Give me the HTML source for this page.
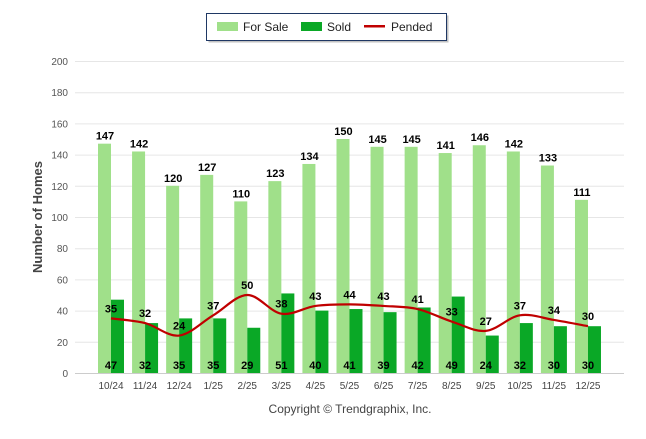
<!DOCTYPE html>
<html><head><meta charset="utf-8"><style>
body{margin:0;background:#fff;font-family:"Liberation Sans",sans-serif}
svg text{font-family:"Liberation Sans",sans-serif}
</style></head><body>
<svg id="c" width="646" height="434" xmlns="http://www.w3.org/2000/svg">
<g>
<rect x="208.5" y="15.5" width="240" height="27" fill="#999" opacity="0.6"/>
<rect x="206.5" y="13.5" width="240" height="27" fill="#fff" stroke="#1f3864" stroke-width="1"/>
<rect x="217" y="22" width="21" height="9" fill="#a0e08a"/><text x="243" y="31" font-size="12" fill="#222">For Sale</text>
<rect x="301" y="22" width="21" height="9" fill="#0aa826"/><text x="327" y="31" font-size="12" fill="#222">Sold</text>
<rect x="364" y="25" width="21" height="2.5" fill="#c00000"/><text x="391" y="31" font-size="12" fill="#222">Pended</text>
</g>
<g id="grid"></g><g id="bars"></g><g id="line"></g><g id="labels"></g>
<text x="42" y="217" font-size="13" font-weight="bold" fill="#444" text-anchor="middle" transform="rotate(-90 42 217)">Number of Homes</text>
<text x="350" y="413" font-size="12" fill="#444" text-anchor="middle">Copyright © Trendgraphix, Inc.</text>
</svg>
<script>
const categories=["10/24","11/24","12/24","1/25","2/25","3/25","4/25","5/25","6/25","7/25","8/25","9/25","10/25","11/25","12/25"];
const forSale=[147,142,120,127,110,123,134,150,145,145,141,146,142,133,111];
const sold=[47,32,35,35,29,51,40,41,39,42,49,24,32,30,30];
const pended=[35,32,24,37,50,38,43,44,43,41,33,27,37,34,30];
const yTicks=[0,20,40,60,80,100,120,140,160,180,200];
const NS="http://www.w3.org/2000/svg";
const y=v=>373-v*1.56;
const x=i=>111+i*34.07;
function mk(t,a,p){const e=document.createElementNS(NS,t);for(const k in a)e.setAttribute(k,a[k]);p.appendChild(e);return e;}
const G=document.getElementById('grid'),B=document.getElementById('bars'),L=document.getElementById('line'),T=document.getElementById('labels');
yTicks.forEach(v=>{
 const l=mk('line',{x1:75,x2:624,y1:y(v)+.5,y2:y(v)+.5,stroke:'#e6e6e6'},G);
 
 
 const t=mk('text',{x:68,y:y(v)+4,'font-size':10,fill:'#555','text-anchor':'end'},G);t.textContent=v;
 
 
});
mk('line',{x1:75,x2:624,y1:373.5,y2:373.5,stroke:'#ccc'},G);
categories.forEach((c,i)=>{
 const cx=x(i);
 const a=mk('rect',{x:cx-13,y:y(forSale[i]),width:13,height:forSale[i]*1.56,fill:'#a0e08a'},B);
 
 
 const b=mk('rect',{x:cx,y:y(sold[i]),width:13,height:sold[i]*1.56,fill:'#0aa826'},B);
 
 
 const t=mk('text',{x:cx,y:389,'font-size':10,fill:'#444','text-anchor':'middle'},G);t.textContent=c;
 
 
 const f=mk('text',{x:cx-6,y:y(forSale[i])-4,'font-size':11,'font-weight':'bold',fill:'#000','text-anchor':'middle'},T);f.textContent=forSale[i];
 
 
 const s=mk('text',{x:cx,y:369,'font-size':11,'font-weight':'bold',fill:'#000','text-anchor':'middle'},T);s.textContent=sold[i];
 
 
 const p=mk('text',{x:cx,y:y(pended[i])-6,'font-size':11,'font-weight':'bold',fill:'#000','text-anchor':'middle'},T);p.textContent=pended[i];
 
 
});
const pts=pended.map((v,i)=>[x(i),y(v)]);
let d=`M${pts[0][0]},${pts[0][1]}`;
for(let i=0;i<pts.length-1;i++){
 const p0=pts[Math.max(i-1,0)],p1=pts[i],p2=pts[i+1],p3=pts[Math.min(i+2,pts.length-1)];
 d+=` C${p1[0]+(p2[0]-p0[0])/6},${p1[1]+(p2[1]-p0[1])/6} ${p2[0]-(p3[0]-p1[0])/6},${p2[1]-(p3[1]-p1[1])/6} ${p2[0]},${p2[1]}`;
}
const pl=mk('path',{d:d,fill:'none',stroke:'#c00000','stroke-width':2.2},L);


</script>
</body></html>
